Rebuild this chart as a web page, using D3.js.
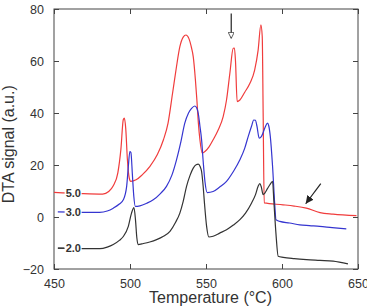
<!DOCTYPE html>
<html>
<head>
<meta charset="utf-8">
<script src="https://cdn.jsdelivr.net/npm/d3@7"></script>
<style>
  body { margin: 0; background: #fff; }
  text { font-family: "Liberation Sans", Arial, sans-serif; }
</style>
</head>
<body>
<div id="chart"></div>
<script>
// DTA curves, [temperature, signal]
const red50 = [[450,9.5],[468,9],[482,8.8],[486,9.8],[489,12],[492,17],[494,26],[495.6,37.5],[496.3,38],[497.2,34],[498.3,22],[499.5,15],[500.5,13.7],[504,14.3],[508,16.2],[513,19.4],[518,24],[522,29.7],[525,36],[528,47.6],[530.5,57.5],[532.8,65.5],[535,69.2],[536.8,70],[538.7,68.7],[540.5,65],[541.6,61.7],[543,53],[544,45],[545,36],[546,29.7],[547.5,24.6],[549.3,25.2],[552,27],[554.7,29.7],[558,33.5],[561.3,38.6],[563.5,45],[565.7,55.3],[567.9,64.9],[568.7,65],[569.4,60],[570.5,44.4],[572.3,45],[575.5,48],[578.9,51.4],[582,56.5],[584.3,64.2],[586.1,73.9],[587,69.4],[587.6,40],[588.3,5.4],[600.7,4.7],[608,4.2],[616,3.4],[625,1.7],[633.6,1.1],[649,0.5]];
const blue30 = [[452.5,2],[480,1.8],[485,2.3],[489,3.4],[493,5],[495.6,6.6],[497.8,11.8],[498.9,19.4],[499.9,25.2],[500.6,24.8],[501.6,16],[502.5,8],[503.5,4.1],[506.5,4.3],[511,5.3],[515.3,6.6],[520,9],[524,11.8],[527.5,16],[530.6,22],[533.5,29],[536,36],[538.5,40],[540.5,41.8],[542.7,42.7],[544,41.8],[544.9,39.9],[546,35],[547.1,29.7],[548.2,21],[549.3,13.7],[550.8,9.4],[554.7,9.8],[559,11.5],[563.5,13.7],[568,17.5],[572.3,22],[575.5,26.5],[577.8,31],[580,35],[581.4,37.3],[582.5,37.2],[583.5,35],[585,30.3],[586.5,31],[588.7,34.2],[590.4,36.1],[591.3,35],[592.3,31],[593.8,19.4],[595.3,4.1],[596,-1],[598.5,-1.7],[605,-2.3],[611.7,-3],[618,-3.3],[624.8,-3.6],[633,-4.1],[642.3,-4.6]];
const black20 = [[452.5,-12],[480.2,-12.2],[485,-11.6],[489,-10.6],[493,-9],[495.6,-7.5],[498.9,-3.6],[501,1.5],[502.6,3.6],[503.6,-1],[504.5,-8],[505.3,-10.6],[508.8,-10.2],[513,-9.6],[517.5,-8.7],[522,-7.4],[526.3,-5.5],[530,-2],[532.8,1.5],[535,6],[537.2,11.8],[539.5,16],[541.6,18.8],[543.5,20.1],[544.9,20.3],[546.2,19.3],[547.1,17.5],[548.1,12],[548.9,6],[550.4,-3.6],[551.9,-7.7],[554.7,-7.4],[559,-6.2],[563.5,-4.9],[568,-3.1],[572.3,-1],[576,1.5],[580,5.4],[582.5,8.5],[584.3,11.8],[585.4,12.8],[586.4,11.5],[587.6,8.6],[588.7,9.2],[590.5,11],[592,12.4],[593.8,13.7],[594.6,6.6],[596,-6.2],[597.5,-15.1],[600.8,-15.5],[608,-16],[616.1,-16.4],[625,-16.7],[633.6,-17],[643.4,-18]];

const seriesNames = ['5.0', '3.0', '2.0'];
const seriesColors = ['#f03c3c', '#3535d0', '#333333'];
const seriesData = [red50, blue30, black20];
const labelY = [9, 2, -12];

const xTicks = [450, 500, 550, 600, 650];
const yTicks = [-20, 0, 20, 40, 60, 80];

const width = 367, height = 308;
const margin = { left: 54, right: 9, top: 9, bottom: 39 };
const innerWidth = width - margin.left - margin.right;
const innerHeight = height - margin.top - margin.bottom;

const svg = d3.select('#chart').append('svg')
    .attr('width', width)
    .attr('height', height);

const g = svg.append('g')
    .attr('transform', `translate(${margin.left},${margin.top})`);

const xScale = d3.scaleLinear().domain([450, 650]).range([0, innerWidth]);
const yScale = d3.scaleLinear().domain([-20, 80]).range([innerHeight, 0]);

const axisColor = '#444';

// inward ticks on all four sides
const xAxis = d3.axisBottom(xScale).tickValues(xTicks).tickSize(-5).tickPadding(10).tickFormat(d3.format('d'));
const xAxisTop = d3.axisTop(xScale).tickValues(xTicks).tickSize(-5);
const yAxis = d3.axisLeft(yScale).tickValues(yTicks).tickSize(-5).tickPadding(10);
const yAxisRight = d3.axisRight(yScale).tickValues(yTicks).tickSize(-5);

const xAxisG = g.append('g').attr('transform', `translate(0,${innerHeight})`).call(xAxis);
const xTopG = g.append('g').call(xAxisTop);
const yAxisG = g.append('g').call(yAxis);
const yRightG = g.append('g').attr('transform', `translate(${innerWidth},0)`).call(yAxisRight);

// top and right carry ticks only
xTopG.selectAll('text').remove();
yRightG.selectAll('text').remove();

[xAxisG, xTopG, yAxisG, yRightG].forEach(a => {
    a.select('.domain').remove();
    a.selectAll('line').attr('stroke', axisColor);
    a.selectAll('text').attr('fill', '#333').style('font-size', '12.5px');
});

g.append('rect')
    .attr('width', innerWidth)
    .attr('height', innerHeight)
    .attr('fill', 'none')
    .attr('stroke', axisColor)
    .attr('stroke-width', 1);

const line = d3.line()
    .curve(d3.curveMonotoneX)
    .x(d => xScale(d[0]))
    .y(d => yScale(d[1]));

g.selectAll('path.curve').data(seriesData)
    .enter()
    .append('path')
    .attr('class', 'curve')
    .attr('d', line)
    .attr('fill', 'none')
    .attr('stroke', (d, i) => seriesColors[i])
    .attr('stroke-width', 1.2);

// black curve lead-in dash
g.append('line')
    .attr('x1', 4).attr('x2', 10)
    .attr('y1', yScale(-12)).attr('y2', yScale(-12))
    .attr('stroke', seriesColors[2]).attr('stroke-width', 1.2);

// series labels with white box behind
const labels = g.selectAll('g.lab').data(seriesNames)
    .enter()
    .append('g')
    .attr('class', 'lab')
    .attr('transform', (d, i) => `translate(${xScale(457)},${yScale(labelY[i])})`);

labels.append('rect')
    .attr('x', 0).attr('y', -6)
    .attr('width', 17).attr('height', 12)
    .attr('fill', '#fff');

labels.append('text')
    .attr('x', 1)
    .attr('dy', '0.35em')
    .attr('fill', '#333')
    .style('font-size', '11px')
    .style('font-weight', 'bold')
    .text(d => d);

// arrows
const defs = svg.append('defs');
defs.append('marker')
    .attr('id', 'openHead')
    .attr('viewBox', '0 0 10 10')
    .attr('refX', 10).attr('refY', 5)
    .attr('markerWidth', 6).attr('markerHeight', 6)
    .attr('markerUnits', 'userSpaceOnUse')
    .attr('orient', 'auto')
    .append('path')
    .attr('d', 'M0,0 L10,5 L0,10 Z')
    .attr('fill', '#fff')
    .attr('stroke', '#222')
    .attr('stroke-width', 1.2);
defs.append('marker')
    .attr('id', 'solidHead')
    .attr('viewBox', '0 0 10 10')
    .attr('refX', 10).attr('refY', 5)
    .attr('markerWidth', 8).attr('markerHeight', 8)
    .attr('markerUnits', 'userSpaceOnUse')
    .attr('orient', 'auto')
    .append('path')
    .attr('d', 'M0,0 L10,5 L0,10 Z')
    .attr('fill', '#222');

g.append('line')
    .attr('x1', xScale(566.6)).attr('y1', yScale(78.3))
    .attr('x2', xScale(566.6)).attr('y2', yScale(68.7))
    .attr('stroke', '#222').attr('stroke-width', 1.2)
    .attr('marker-end', 'url(#openHead)');

g.append('line')
    .attr('x1', xScale(625.5)).attr('y1', yScale(12.8))
    .attr('x2', xScale(615.6)).attr('y2', yScale(5.1))
    .attr('stroke', '#222').attr('stroke-width', 1.2)
    .attr('marker-end', 'url(#solidHead)');

// axis labels
svg.append('text')
    .attr('x', margin.left + xScale(553))
    .attr('y', 303)
    .attr('text-anchor', 'middle')
    .attr('fill', '#333')
    .style('font-size', '16px')
    .text('Temperature (°C)');

svg.append('text')
    .attr('transform', `translate(14,${margin.top + yScale(28)}) rotate(-90)`)
    .attr('text-anchor', 'middle')
    .attr('fill', '#333')
    .style('font-size', '16px')
    .text('DTA signal (a.u.)');
</script>
</body>
</html>
